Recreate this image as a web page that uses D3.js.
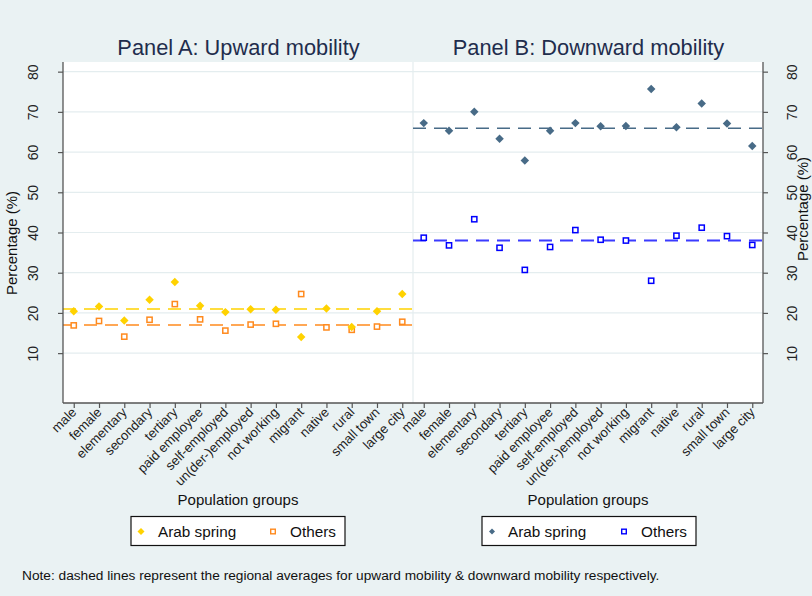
<!DOCTYPE html>
<html><head><meta charset="utf-8">
<script src="https://cdn.jsdelivr.net/npm/d3@7"></script>
<style>
html,body{margin:0;padding:0;background:#EAF2F3;}
svg{display:block;font-family:"Liberation Sans",Arial,Helvetica,sans-serif;}
</style></head>
<body><svg id="c" width="812" height="596"></svg>
<script>
const categories = ["male","female","elementary","secondary","tertiary","paid employee","self-employed","un(der-)employed","not working","migrant","native","rural","small town","large city"];
const upArab   = [20.4,21.6,18.1,23.3,27.7,21.8,20.2,20.9,20.8,14.0,21.1,16.5,20.4,24.7];
const upOthers = [16.9,18.0,14.1,18.3,22.2,18.4,15.6,17.1,17.3,24.7,16.4,15.8,16.6,17.8];
const downArab   = [67.2,65.3,70.0,63.3,57.9,65.3,67.2,66.4,66.5,75.7,66.2,72.1,67.1,61.5];
const downOthers = [38.7,36.8,43.3,36.2,30.7,36.4,40.6,38.2,38.0,28.0,39.2,41.2,39.1,36.9];
const upAverages = [21.0, 17.0];
const downAverages = [65.9, 38.0];
const yTicks = [10,20,30,40,50,60,70,80];
const seriesNames = ["Arab spring","Others"];
const panelTitles = ["Panel A: Upward mobility","Panel B: Downward mobility"];
const xTitle = "Population groups";
const yTitle = "Percentage (%)";
const noteText = "Note: dashed lines represent the regional averages for upward mobility & downward mobility respectively.";

const svg = d3.select("#c");
const W = 812, H = 596;
svg.append("rect").attr("width",W).attr("height",H).attr("fill","#EAF2F3");

const plotTop = 62, plotBottom = 403;
const y = d3.scaleLinear().domain([-2.4, 82.4]).range([plotBottom, plotTop]);

const panels = [
  {x0:63, x1:413, arab:upArab, others:upOthers, avg:upAverages, arabCol:"#FFD200", othCol:"#FF8A1E",
   avgCols:["#FFD200","#FF8A1E"], avgW:[1.5,1.5], axis:"left", title:panelTitles[0],
   legendBox:[131,345], legendMarks:[141,273,158,290], legDiam:7},
  {x0:413, x1:763, arab:downArab, others:downOthers, avg:downAverages, arabCol:"#486B87", othCol:"#0000FF",
   avgCols:["#486B87","#3B3BFF"], avgW:[1.5,2], axis:"right", title:panelTitles[1],
   legendBox:[482,696], legendMarks:[492,624,508,641], legDiam:6}
];

// white plot region
svg.append("rect").attr("x",63).attr("y",plotTop).attr("width",700).attr("height",plotBottom-plotTop).attr("fill","#fff");

const diamond = d3.symbol().type(d3.symbolSquare);

panels.forEach((p,pi)=>{
  const g = svg.append("g");
  const x = d3.scalePoint().domain(categories).range([p.x0,p.x1]).padding(0.425);

  // gridlines
  g.selectAll(".grid").data(yTicks).join("line")
    .attr("x1",p.x0).attr("x2",p.x1).attr("y1",d=>y(d)).attr("y2",d=>y(d))
    .attr("stroke","#E4EDEF").attr("stroke-width",1.2);
  if(pi===0){
    g.append("line").attr("x1",p.x1).attr("x2",p.x1).attr("y1",plotTop).attr("y2",plotBottom)
      .attr("stroke","#E4EDEF").attr("stroke-width",1.2);
  }

  // average lines
  p.avg.forEach((v,i)=>{
    g.append("line").attr("x1",p.x0).attr("x2",p.x1).attr("y1",y(v)).attr("y2",y(v))
      .attr("stroke",p.avgCols[i]).attr("stroke-width",p.avgW[i]).attr("stroke-dasharray","13,8");
  });

  // y axis
  const yAxis = (p.axis==="left"? d3.axisLeft(y) : d3.axisRight(y)).tickValues(yTicks).tickSize(5).tickPadding(3).tickFormat(d3.format("d"));
  const ax = g.append("g").attr("transform",`translate(${p.axis==="left"?p.x0:p.x1},0)`).call(yAxis);
  ax.select(".domain").attr("d", `M0,${plotTop}V${plotBottom}`).attr("stroke","#555").attr("stroke-width",1.3);
  ax.selectAll(".tick line").attr("stroke","#555").attr("stroke-width",1.2);
  ax.selectAll(".tick text").attr("font-size",14).attr("fill","#222")
    .attr("text-anchor","middle").attr("dy",null)
    .attr("transform",function(){
      const bx = p.axis==="left" ? -25 : 34;
      return `translate(${bx},0) rotate(-90)`;
    }).attr("x",0).attr("y",0);

  // x axis
  const xAxis = d3.axisBottom(x).tickSize(5).tickPadding(2);
  const bx = g.append("g").attr("transform",`translate(0,${plotBottom})`).call(xAxis);
  bx.select(".domain").attr("d",`M${p.x0},0H${p.x1}`).attr("stroke","#555").attr("stroke-width",1.3);
  bx.selectAll(".tick line").attr("stroke","#555").attr("stroke-width",1.2);
  bx.selectAll(".tick text").attr("font-size",13.2).attr("fill","#222")
    .attr("text-anchor","end").attr("dy",null).attr("y",0).attr("x",0)
    .attr("transform","translate(3,10) rotate(-45)");

  // points: others (squares)
  g.selectAll(".oth").data(p.others).join("rect")
    .attr("x",(d,i)=>x(categories[i])-2.6).attr("y",d=>y(d)-2.6)
    .attr("width",5.2).attr("height",5.2).attr("fill","#fff")
    .attr("stroke",p.othCol).attr("stroke-width",1.5);
  // arab (diamonds)
  g.selectAll(".arab").data(p.arab).join("path")
    .attr("d",diamond.size(36))
    .attr("transform",(d,i)=>`translate(${x(categories[i])},${y(d)}) rotate(45)`)
    .attr("fill",p.arabCol);

  const cx = (p.x0+p.x1)/2;
  // title
  svg.append("text").attr("x",cx+0.5).attr("y",55).attr("text-anchor","middle")
    .attr("font-size",21.8).attr("fill","#1F2D4D").text(p.title);
  // x title
  svg.append("text").attr("x",cx).attr("y",505).attr("text-anchor","middle")
    .attr("font-size",15).attr("fill","#111").text(xTitle);

  // legend
  const lb = p.legendBox, lm = p.legendMarks;
  svg.append("rect").attr("x",lb[0]).attr("y",516.5).attr("width",lb[1]-lb[0]).attr("height",29)
    .attr("fill","#fff").attr("stroke","#111").attr("stroke-width",1.2);
  svg.append("path").attr("d",d3.symbol().type(d3.symbolSquare).size(p.legDiam*p.legDiam/2)())
    .attr("transform",`translate(${lm[0]},531.5) rotate(45)`).attr("fill",p.arabCol);
  svg.append("text").attr("x",lm[2]).attr("y",536.8).attr("font-size",15.3).attr("fill","#111").text(seriesNames[0]);
  svg.append("rect").attr("x",lm[1]-2.3).attr("y",529.2).attr("width",4.6).attr("height",4.6)
    .attr("fill","#fff").attr("stroke",p.othCol).attr("stroke-width",1.4);
  svg.append("text").attr("x",lm[3]).attr("y",536.8).attr("font-size",15.3).attr("fill","#111").text(seriesNames[1]);
});

// y titles
svg.append("text").attr("transform","translate(17,243) rotate(-90)").attr("text-anchor","middle")
  .attr("font-size",15).attr("fill","#111").text(yTitle);
svg.append("text").attr("transform","translate(808,209) rotate(-90)").attr("text-anchor","middle")
  .attr("font-size",15).attr("fill","#111").text(yTitle);

// note
svg.append("text").attr("x",22).attr("y",580).attr("font-size",13.7).attr("fill","#111").text(noteText);
</script></body></html>
